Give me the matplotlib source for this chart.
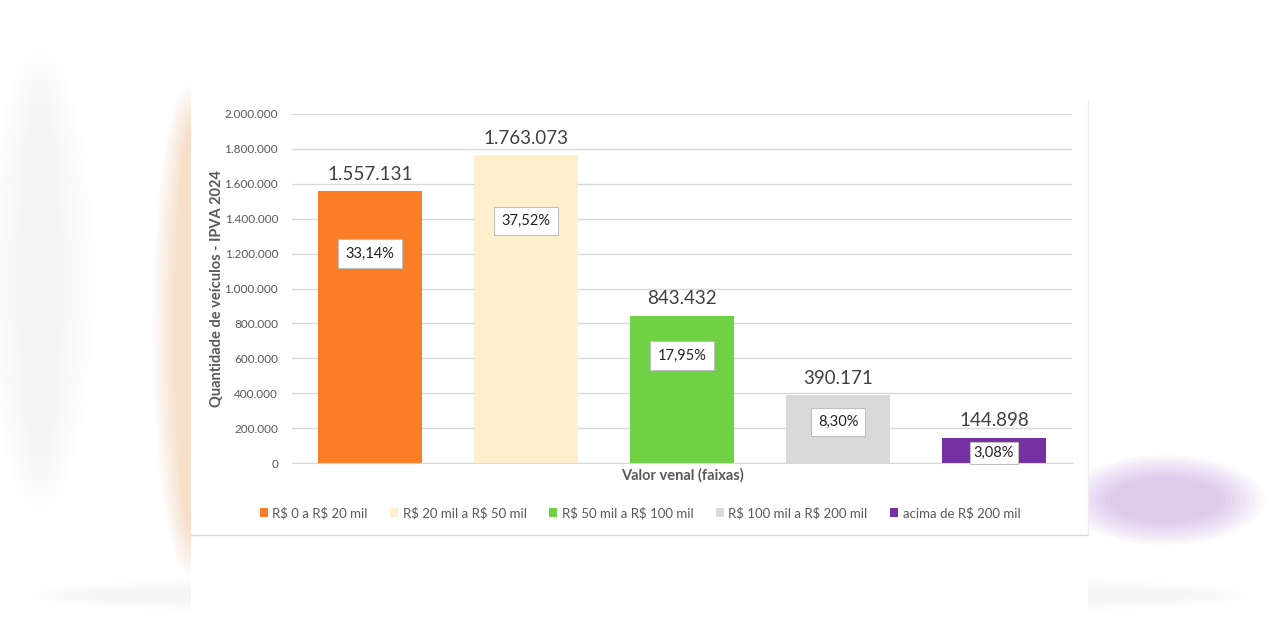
import numpy as np
import matplotlib.pyplot as plt
from matplotlib.patches import Rectangle, Ellipse

plt.rcParams['font.family'] = ['Lato', 'DejaVu Sans']
plt.rcParams['text.parse_math'] = False

faixas = ['R$ 0 a R$ 20 mil', 'R$ 20 mil a R$ 50 mil', 'R$ 50 mil a R$ 100 mil',
          'R$ 100 mil a R$ 200 mil', 'acima de R$ 200 mil']
veiculos = [1557131, 1763073, 843432, 390171, 144898]
percentuais = ['33,14%', '37,52%', '17,95%', '8,30%', '3,08%']
cores = ['#FB7E26', '#FEF0CC', '#6FD143', '#D9D9D9', '#7530A2']
yticks = list(range(0, 2000001, 200000))

def br(n):
    return f"{n:,}".replace(',', '.')

fig = plt.figure(figsize=(12.8, 6.4), dpi=100)
fig.patch.set_facecolor('white')

# blurred backdrop around the chart card
bg = fig.add_axes([0, 0, 1, 1])
bg.set_xlim(0, 1280)
bg.set_ylim(640, 0)
bg.axis('off')
for i in range(10):
    bg.add_patch(Ellipse((190, 330), 30 + i * 5, 400 + i * 10, color='#F79A55', alpha=0.03, lw=0))
    bg.add_patch(Ellipse((1165, 500), 110 + i * 10, 45 + i * 5, color='#A86BD0', alpha=0.04, lw=0))
    bg.add_patch(Ellipse((40, 280), 40 + i * 8, 360 + i * 12, color='#B0B0B0', alpha=0.008, lw=0))
    bg.add_patch(Ellipse((640, 595), 1100 + i * 15, 25 + i * 3, color='#D0D0D0', alpha=0.012, lw=0))
bg.add_patch(Rectangle((191, 80), 897, 540, facecolor='white', edgecolor='none'))
bg.plot([191, 1088], [535, 535], color='#D9D9D9', lw=1)
bg.plot([1088, 1088], [100, 535], color='#EDEDED', lw=1)

ax = fig.add_axes([292 / 1280, 1 - 463 / 640, 780 / 1280, 349 / 640])
x = np.arange(len(faixas))
bars = ax.bar(x, veiculos, width=0.67, color=cores, zorder=2)
ax.set_xlim(-0.5, len(faixas) - 0.5)
ax.set_ylim(0, 2000000)
ax.set_yticks(yticks)
ax.set_yticklabels([br(t) for t in yticks], fontsize=8.5, color='#595959')
ax.set_xticks([])
ax.tick_params(axis='y', length=0, pad=10)
ax.grid(axis='y', color='#D9D9D9', lw=1, zorder=0)
for s in ['top', 'right', 'left']:
    ax.spines[s].set_visible(False)
ax.spines['bottom'].set_color('#D9D9D9')
ax.set_facecolor('none')

ax.set_ylabel('Quantidade de veículos - IPVA 2024', fontsize=10.5, fontweight='bold',
              color='#595959', labelpad=0)
ax.set_xlabel('Valor venal (faixas)', fontsize=10.5, fontweight='bold', color='#595959',
              labelpad=4)

# percentage label heights as a share of each bar
pos_frac = [0.77, 0.787, 0.73, 0.60, 0.39]
for xi, v, p, f in zip(x, veiculos, percentuais, pos_frac):
    ax.annotate(br(v), (xi, v), xytext=(0, 6), textcoords='offset points',
                ha='center', va='bottom', fontsize=13.5, color='#404040')
    pad = 0.5 if v > 300000 else 0.25
    ax.text(xi, v * f, p, ha='center', va='center', fontsize=10.5, color='#222222',
            bbox=dict(boxstyle=f'square,pad={pad}', fc='white', ec='#BFBFBF', lw=0.8),
            zorder=3)

leg = fig.legend(bars, faixas, loc='center', bbox_to_anchor=(640 / 1280, 1 - 513 / 640),
                 ncol=5, frameon=False, fontsize=9.5, handlelength=0.6, handleheight=0.6,
                 handletextpad=0.35, columnspacing=1.7)
for t in leg.get_texts():
    t.set_color('#595959')

fig.savefig('out.png', dpi=100, facecolor='white')
